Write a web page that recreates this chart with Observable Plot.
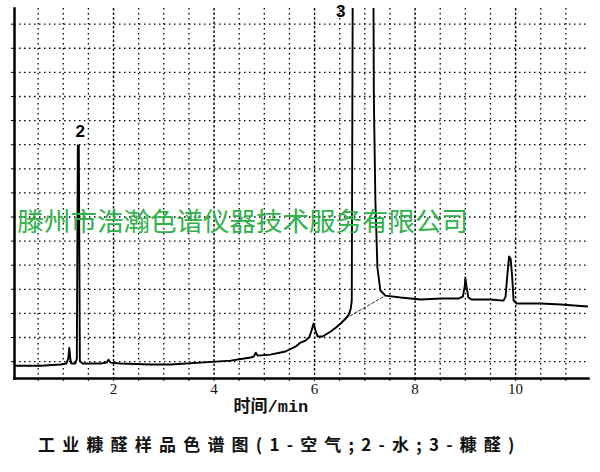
<!DOCTYPE html>
<html>
<head>
<meta charset="utf-8">
<script src="https://cdn.jsdelivr.net/npm/d3@7"></script>
<script src="https://cdn.jsdelivr.net/npm/@observablehq/plot@0.6"></script>
<style>
  html, body { margin: 0; padding: 0; background: #fff; }
  #wrap { position: relative; width: 600px; height: 472px; }
  #caption {
    position: absolute; left: 38px; top: 435px; line-height: 1;
    font-family: "Noto Sans CJK SC", sans-serif; font-weight: 700;
    font-size: 17px; letter-spacing: 7.2px; color: #111; white-space: nowrap;
  }
</style>
</head>
<body>
<div id="wrap"><div id="chart"></div><div id="caption"></div></div>
<script>
// Retention time (min) and detector signal (arbitrary units)
const times  = [0.03, 0.55, 0.95, 1.06, 1.10, 1.12, 1.14, 1.16, 1.24, 1.27, 1.29, 1.31, 1.33, 1.38,
                1.74, 1.86, 1.90, 1.94, 2.14, 2.74, 3.13, 3.73, 4.33, 4.73, 4.79, 4.83, 4.87, 5.12,
                5.42, 5.62, 5.72, 5.82, 5.90, 5.94, 5.98, 6.02, 6.06, 6.16, 6.32, 6.42, 6.52, 6.62,
                6.68, 6.72, 6.74, 6.76, 7.17, 7.18, 7.21, 7.25, 7.31, 7.41, 7.71, 8.11, 8.51, 8.87,
                8.95, 8.99, 9.00, 9.02, 9.06, 9.12, 9.50, 9.76, 9.80, 9.84, 9.87, 9.90, 9.93, 9.96,
                10.02, 10.50, 10.90, 11.43];
const signal = [-0.17, -0.17, -0.12, -0.08, 0.12, 0.58, 0.12, -0.08, -0.08, 0.12, 8.97, 8.97, 0.04, -0.08,
                -0.08, -0.04, 0.08, -0.04, -0.08, -0.12, -0.12, -0.04, 0.04, 0.17, 0.21, 0.37, 0.25, 0.29,
                0.42, 0.62, 0.79, 0.87, 1.04, 1.29, 1.58, 1.29, 1.04, 1.04, 1.25, 1.41, 1.58, 1.79,
                1.95, 2.20, 2.53, 16, 16, 10.84, 6.69, 3.91, 2.95, 2.74, 2.66, 2.58, 2.62, 2.62,
                2.70, 3.16, 3.49, 3.16, 2.66, 2.58, 2.58, 2.53, 2.70, 3.70, 4.36, 4.28, 3.57, 2.53,
                2.41, 2.41, 2.37, 2.29];

// Tangent skim baseline under peak 3
const tangentT = [6.62, 7.41];
const tangentV = [1.79, 2.74];

// Peak number labels
const peakLabels = ["2", "3"];
const labelT = [1.34, 6.52];
const labelV = [9.56, 14.54];

// Axis / grid ticks
const xTicks = [2, 4, 6, 8, 10];
const minorT = [0.5, 1, 1.5, 2.5, 3, 3.5, 4.5, 5, 5.5, 6.5, 7, 7.5, 8.5, 9, 9.5, 10.5, 11];
const gridV = [0, 1, 2, 3, 4, 5, 6, 7, 8, 9, 10, 11, 12, 13, 14];
const halfTicks = [0.5, 1, 1.5, 2, 2.5, 3, 3.5, 4, 4.5, 5, 5.5, 6, 6.5, 7, 7.5, 8, 8.5, 9, 9.5, 10, 10.5, 11];

const xLabel = "时间/min";
const watermark = "滕州市浩瀚色谱仪器技术服务有限公司";
const caption = "工业糠醛样品色谱图(1-空气;2-水;3-糠醛)";

const trace = times.map((t, i) => ({t, v: signal[i]}));
const tangent = tangentT.map((t, i) => ({t, v: tangentV[i]}));
const labels = peakLabels.map((s, i) => ({s, t: labelT[i], v: labelV[i]}));

const chart = Plot.plot({
  width: 600,
  height: 422,
  marginTop: 8,
  marginBottom: 44,
  marginLeft: 14,
  marginRight: 12,
  x: {domain: [0.03, 11.45], axis: null},
  y: {domain: [-0.7, 14.65], axis: null},
  style: {background: "#fff"},
  marks: [
    Plot.ruleX(minorT, {x: d => d, stroke: "#000", strokeWidth: 1.3, strokeDasharray: "1.5,3.5"}),
    Plot.ruleX(xTicks, {x: d => d, stroke: "#000", strokeWidth: 1.4, strokeDasharray: "2.5,2"}),
    Plot.ruleY(gridV, {y: d => d, stroke: "#000", strokeWidth: 1.3, strokeDasharray: "1.5,3.5"}),
    Plot.frame({anchor: "left", strokeWidth: 2.5, stroke: "#000"}),
    Plot.frame({anchor: "bottom", strokeWidth: 2.5, stroke: "#000"}),
    Plot.axisX({ticks: halfTicks, tickFormat: () => "", tickSize: 3, label: null}),
    Plot.axisY({ticks: gridV, tickFormat: () => "", tickSize: 3, label: null}),
    Plot.axisX({ticks: xTicks, tickSize: 0, tickPadding: 5, label: null,
                fontSize: 15, fontFamily: "Liberation Serif, serif", fill: "#111"}),
    Plot.line(trace, {x: "t", y: "v", stroke: "#000", strokeWidth: 1.9, clip: true}),
    Plot.line(tangent, {x: "t", y: "v", stroke: "#000", strokeWidth: 0.8, strokeDasharray: "3,2"}),
    Plot.text(labels, {x: "t", y: "v", text: "s", fontSize: 17, fontWeight: "bold",
                       fontFamily: "Liberation Sans, sans-serif", fill: "#000"}),
    Plot.text([xLabel], {text: d => d, frameAnchor: "bottom-left", dx: 219, dy: 33,
                         textAnchor: "start", fontSize: 17, fontWeight: "bold",
                         fontFamily: "'Liberation Mono', 'Noto Sans CJK SC', monospace", fill: "#111"}),
    Plot.text([watermark], {text: d => d, frameAnchor: "top-left", dx: 3, dy: 204,
                            textAnchor: "start", fontSize: 26.5,
                            fontFamily: "'Noto Sans CJK SC', sans-serif", fill: "#2fb24a"})
  ]
});
document.getElementById("chart").appendChild(chart);
document.getElementById("caption").textContent = caption;
</script>
</body>
</html>
